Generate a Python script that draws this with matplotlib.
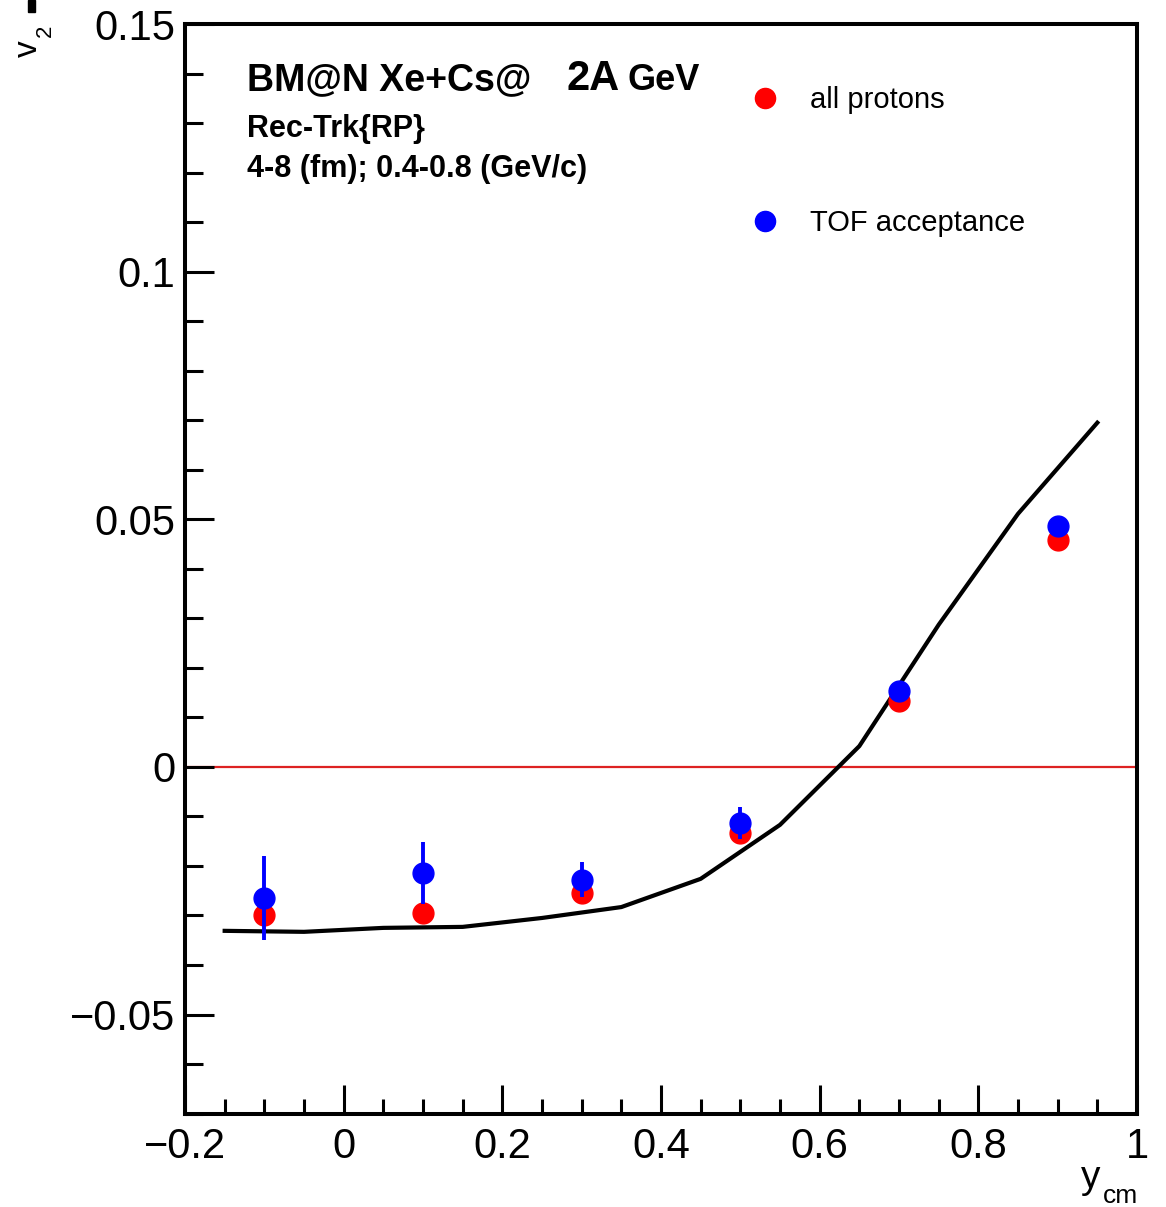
import matplotlib
matplotlib.use("Agg")
import matplotlib.pyplot as plt
from matplotlib.lines import Line2D
from matplotlib.patches import Rectangle
from matplotlib.ticker import MultipleLocator

plt.rcParams['font.family'] = ['Liberation Sans', 'DejaVu Sans']

# ---- data ----
x_points = [-0.1, 0.1, 0.3, 0.5, 0.7, 0.9]
v2_all = [-0.0299, -0.0295, -0.0255, -0.0133, 0.0133, 0.0459]
v2_all_err = [0.002, 0.002, 0.002, 0.0015, 0.001, 0.001]
v2_tof = [-0.0265, -0.0214, -0.0228, -0.0113, 0.0154, 0.0487]
v2_tof_err = [0.0085, 0.0063, 0.0035, 0.0032, 0.0015, 0.001]

x_model = [-0.15, -0.05, 0.05, 0.15, 0.25, 0.35, 0.45, 0.55, 0.65, 0.75, 0.85, 0.95]
v2_model = [-0.0331, -0.0333, -0.0325, -0.0323, -0.0305, -0.0283, -0.0226,
            -0.0117, 0.0042, 0.0287, 0.0511, 0.0695]

xticks = [-0.2, 0.0, 0.2, 0.4, 0.6, 0.8, 1.0]
xtick_labels = ['\u22120.2', '0', '0.2', '0.4', '0.6', '0.8', '1']
yticks = [-0.05, 0.0, 0.05, 0.1, 0.15]
ytick_labels = ['\u22120.05', '0', '0.05', '0.1', '0.15']

legend_labels = ['all protons', 'TOF acceptance']

W, H = 1166, 1207
fig = plt.figure(figsize=(W / 100, H / 100), dpi=100)
left, right, top, bottom = 185, 1137, 24, 1113.6
ax = fig.add_axes([left / W, 1 - bottom / H, (right - left) / W, (bottom - top) / H])

ax.set_xlim(-0.2, 1.0)
ax.set_ylim(-0.07, 0.15)

ax.axhline(0.0, color='#dd2222', lw=1.6, zorder=1)
ax.plot(x_model, v2_model, color='black', lw=3.0, zorder=2)

ax.errorbar(x_points, v2_all, yerr=v2_all_err, fmt='o', color='#ff0000',
            ms=15, elinewidth=2.8, capsize=0, zorder=3)
ax.errorbar(x_points, v2_tof, yerr=v2_tof_err, fmt='o', color='#0000ff',
            ms=15, elinewidth=2.8, capsize=0, zorder=4)

handles = [Line2D([], [], ls='none', marker='o', color='#ff0000', ms=14.5),
           Line2D([], [], ls='none', marker='o', color='#0000ff', ms=14.5)]
ax.legend(handles, legend_labels, loc='upper left',
          bbox_to_anchor=((750 - left) / (right - left), 1 - (86 - top) / (bottom - top)),
          frameon=False, fontsize=21, handlelength=1.0, handletextpad=1.05,
          labelspacing=3.25, borderpad=0, borderaxespad=0)

ax.set_xticks(xticks)
ax.set_xticklabels(xtick_labels)
ax.set_yticks(yticks)
ax.set_yticklabels(ytick_labels)
ax.xaxis.set_minor_locator(MultipleLocator(0.05))
ax.yaxis.set_minor_locator(MultipleLocator(0.01))
ax.tick_params(axis='both', which='both', direction='in', top=False, right=False,
               width=2.2, labelsize=30)
ax.tick_params(axis='x', which='major', length=21, pad=10)
ax.tick_params(axis='x', which='minor', length=11)
ax.tick_params(axis='y', which='major', length=21, pad=7)
ax.tick_params(axis='y', which='minor', length=13)
for s in ax.spines.values():
    s.set_linewidth(2.9)

# text annotations (figure pixel coordinates)
def ftext(px, py, s, **kw):
    fig.text(px / W, 1 - py / H, s, **kw)

ftext(247, 90, 'BM@N Xe+Cs@', fontsize=27, fontweight='bold', va='baseline')
ftext(567, 90, '2A', fontsize=30, fontweight='bold', va='baseline')
ftext(628, 90, 'GeV', fontsize=26, fontweight='bold', va='baseline')
ftext(247, 137, 'Rec-Trk{RP}', fontsize=22, fontweight='bold', va='baseline')
ftext(247, 177, '4-8 (fm); 0.4-0.8 (GeV/c)', fontsize=22, fontweight='bold', va='baseline')

# axis titles
ftext(1091, 1178, 'y', fontsize=28, ha='center', va='center')
ftext(1103, 1203, 'cm', fontsize=19, ha='left', va='baseline')
ftext(28.5, 49, 'v', fontsize=24, rotation=90, ha='center', va='center')
ftext(45, 31, '2', fontsize=16, rotation=90, ha='center', va='center')

fig.patches.append(Rectangle((28 / W, 1 - 12 / H), 7 / W, 12 / H,
                             transform=fig.transFigure, color='black'))

fig.savefig('out.png', dpi=100)
